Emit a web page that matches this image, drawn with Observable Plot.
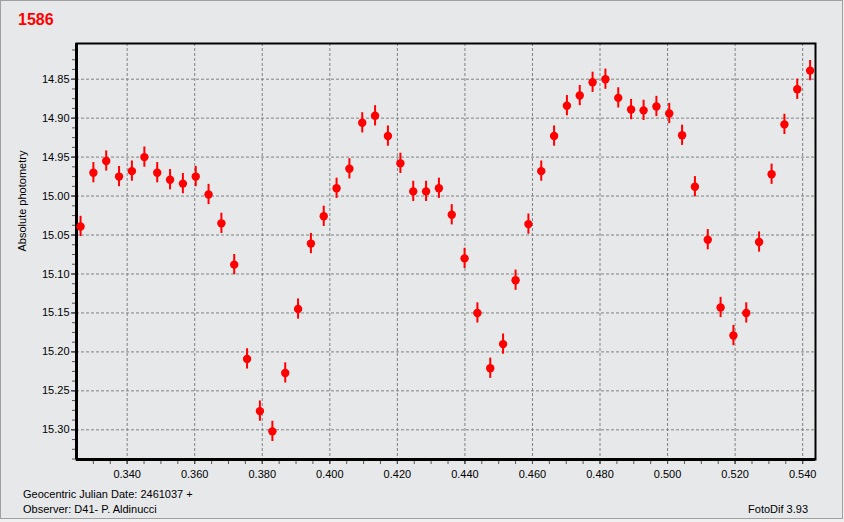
<!DOCTYPE html>
<html>
<head>
<meta charset="utf-8">
<script src="https://cdn.jsdelivr.net/npm/d3@7"></script>
<script src="https://cdn.jsdelivr.net/npm/@observablehq/plot@0.6"></script>
<style>
  html, body { margin: 0; padding: 0; background: #f0f0f0; }
  #wrap { position: relative; width: 844px; height: 522px; overflow: hidden; font-family: "Liberation Sans", Arial, sans-serif; }
  #panel { position: absolute; left: 0; top: 0; width: 843px; height: 519px; box-sizing: border-box; border: 1px solid #a0a0a0; background: #e7e8ea; }
  #chart { position: absolute; left: 0; top: 0; }
  .txt { position: absolute; white-space: nowrap; line-height: 1; color: #000; }
  #title { left: 18px; top: 11.5px; font-size: 16px; font-weight: bold; color: #ff0000; }
  .foot { font-size: 11px; }
</style>
</head>
<body>
<div id="wrap">
  <div id="panel"></div>
  <div id="chart"></div>
  <div id="title" class="txt">1586</div>
  <div class="txt foot" style="left:23px; top:489px;">Geocentric Julian Date: 2461037 +</div>
  <div class="txt foot" style="left:23px; top:504px;">Observer: D41- P. Aldinucci</div>
  <div class="txt foot" style="right:36px; top:504px;">FotoDif 3.93</div>
</div>
<script>
// Geocentric JD fraction (+2461037)
const jdFrac = [
  0.3262, 0.3300, 0.3338, 0.3376, 0.3414, 0.3451, 0.3489, 0.3527, 0.3565, 0.3603,
  0.3641, 0.3679, 0.3717, 0.3755, 0.3793, 0.3830, 0.3868, 0.3906, 0.3944, 0.3982,
  0.4020, 0.4058, 0.4096, 0.4134, 0.4172, 0.4209, 0.4247, 0.4285, 0.4323, 0.4361,
  0.4399, 0.4437, 0.4475, 0.4513, 0.4550, 0.4588, 0.4626, 0.4664, 0.4702, 0.4740,
  0.4778, 0.4816, 0.4854, 0.4892, 0.4929, 0.4967, 0.5005, 0.5043, 0.5081, 0.5119,
  0.5157, 0.5195, 0.5233, 0.5271, 0.5308, 0.5346, 0.5384, 0.5422
];
// Absolute photometry (mag)
const mag = [
  15.039, 14.970, 14.955, 14.975, 14.968, 14.950, 14.970, 14.979, 14.984, 14.975,
  14.998, 15.035, 15.088, 15.209, 15.276, 15.302, 15.227, 15.145, 15.061, 15.026,
  14.990, 14.965, 14.906, 14.897, 14.923, 14.958, 14.994, 14.994, 14.990, 15.024,
  15.080, 15.150, 15.221, 15.190, 15.108, 15.036, 14.968, 14.923, 14.884, 14.871,
  14.854, 14.850, 14.874, 14.889, 14.890, 14.885, 14.894, 14.922, 14.988, 15.056,
  15.143, 15.179, 15.150, 15.059, 14.972, 14.908, 14.863, 14.839
];
const magErr = 0.013;

const xTicks = [0.340, 0.360, 0.380, 0.400, 0.420, 0.440, 0.460, 0.480, 0.500, 0.520, 0.540];
const yTicks = [14.85, 14.90, 14.95, 15.00, 15.05, 15.10, 15.15, 15.20, 15.25, 15.30];
const xDomain = [0.3250, 0.5438];
const yDomain = [14.8042, 15.3381];

const data = jdFrac.map((x, i) => ({x, y: mag[i]}));
const minorX = d3.range(0.330, 0.5401, 0.005);
const minorY = d3.range(14.8125, 15.338, 0.0125);

const W = 844, H = 522, mL = 76, mR = 29, mT = 43, mB = 63;
const pxX = (xDomain[1] - xDomain[0]) / (W - mL - mR);
const pxY = (yDomain[1] - yDomain[0]) / (H - mT - mB);

const chart = Plot.plot({
  width: W,
  height: H,
  marginLeft: mL,
  marginRight: mR,
  marginTop: mT,
  marginBottom: mB,
  style: {background: "transparent", fontFamily: "'Liberation Sans', Arial, sans-serif", fontSize: "11px", color: "#000"},
  x: {domain: xDomain, ticks: xTicks, tickFormat: d => d.toFixed(3), tickSize: 5, tickPadding: 6, label: null},
  y: {domain: yDomain, reverse: true, ticks: yTicks, tickFormat: d => d.toFixed(2), tickSize: 5, tickPadding: 2, label: null},
  marks: [
    Plot.ruleX(xTicks, {x: d => d, stroke: "#808080", strokeWidth: 1, strokeDasharray: "3,2", strokeOpacity: 1}),
    Plot.ruleY(yTicks, {y: d => d, stroke: "#808080", strokeWidth: 1, strokeDasharray: "3,2", strokeOpacity: 1}),
    Plot.ruleX(minorX, {x: d => d, y1: yDomain[1], y2: yDomain[1] + 5 * pxY, stroke: "#555", strokeWidth: 1}),
    Plot.ruleY(minorY, {y: d => d, x1: xDomain[0] - 4 * pxX, x2: xDomain[0], stroke: "#555", strokeWidth: 1}),
    Plot.frame({stroke: "#000", strokeWidth: 2}),
    Plot.ruleX([xDomain[0]], {stroke: "#000", strokeWidth: 3}),
    Plot.ruleY([yDomain[1]], {stroke: "#000", strokeWidth: 3}),
    Plot.ruleX(data, {x: "x", y1: d => d.y - magErr, y2: d => d.y + magErr, stroke: "#ff0000", strokeWidth: 2}),
    Plot.dot(data, {x: "x", y: "y", r: 4.2, fill: "#ff0000", stroke: null}),
    Plot.text(["Absolute photometry"], {frameAnchor: "left", dx: -54, rotate: -90, text: d => d, fontSize: 11, fill: "#000"})
  ]
});
document.getElementById("chart").appendChild(chart);
</script>
</body>
</html>
